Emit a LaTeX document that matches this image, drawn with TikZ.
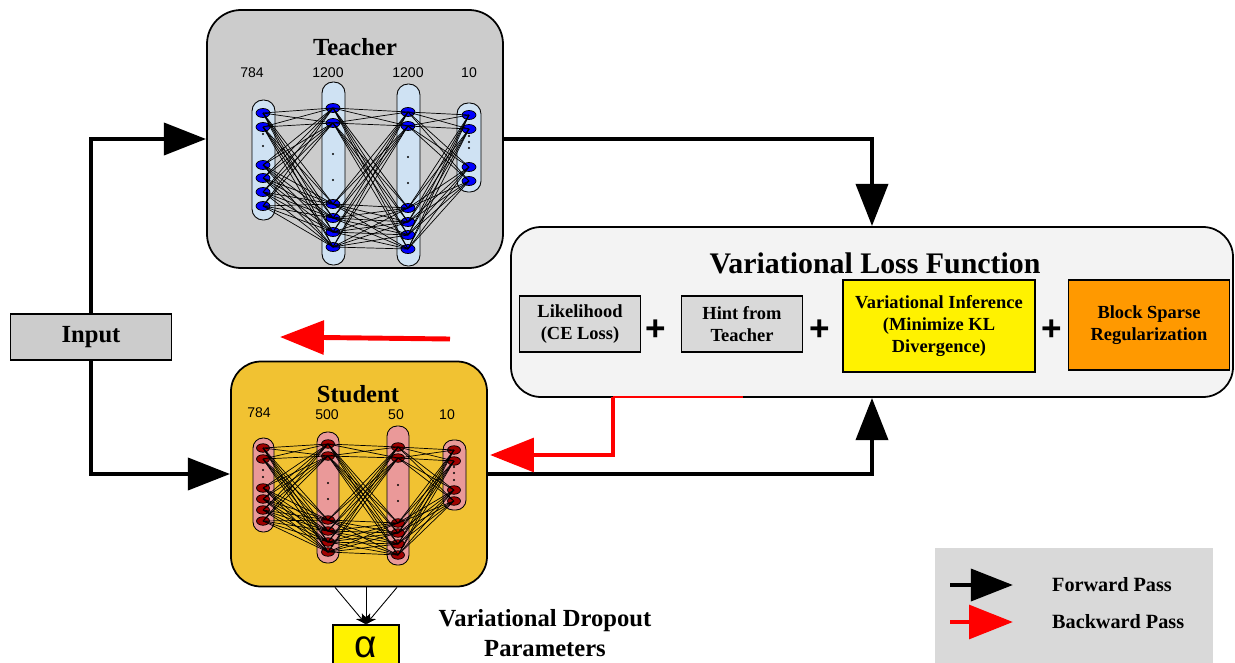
\documentclass[tikz,border=0pt]{standalone}
\usepackage{fontspec}
\setmainfont{Liberation Serif}
\setsansfont{Liberation Sans}
\usetikzlibrary{arrows.meta,shapes.geometric,calc}

\newlength{\du}
\setlength{\du}{0.02cm}

\tikzset{
  panel/.style={draw=black, line width=1pt, inner sep=0pt},
  tbar/.style={draw=black, line width=0.5pt, fill=teacherbar, rounded corners=11\du},
  sbar/.style={draw=black, line width=0.5pt, fill=studentbar, rounded corners=10\du},
  tunit/.style={ellipse, draw=black, line width=0.4pt, fill=teacherunit, minimum width=14\du, minimum height=9\du, inner sep=0pt},
  sunit/.style={ellipse, draw=black, line width=0.4pt, fill=studentunit, minimum width=13\du, minimum height=8.5\du, inner sep=0pt},
  wire/.style={line width=0.4pt},
  fwd/.style={line width=2.8pt, -{Triangle[length=24pt,width=18pt]}},
  bwd/.style={red, line width=2.8pt, -{Triangle[length=25pt,width=19pt]}},
  termbox/.style={draw=black, line width=0.6pt, inner sep=0pt, align=center, font=\bfseries\fontsize{10.5}{12.5}\selectfont},
  plussign/.style={font=\sffamily\bfseries\fontsize{20}{20}\selectfont},
  layerlabel/.style={font=\sffamily\fontsize{8}{8}\selectfont, inner sep=1pt},
  boxtitle/.style={font=\bfseries\fontsize{14}{14}\selectfont, inner sep=1pt},
  legendtext/.style={anchor=west, font=\bfseries\fontsize{11.5}{11.5}\selectfont},
}

\begin{document}
\begin{tikzpicture}
\pgftransformxscale{1.000000}
\pgftransformyscale{-1.000000}
\definecolor{teachergray}{RGB}{204,204,204}
\definecolor{studentgold}{RGB}{241,194,50}
\definecolor{lossgray}{RGB}{243,243,243}
\definecolor{termgray}{RGB}{217,217,217}
\definecolor{termorange}{RGB}{255,153,0}
\definecolor{teacherbar}{RGB}{207,226,243}
\definecolor{teacherunit}{RGB}{0,0,255}
\definecolor{studentbar}{RGB}{234,153,153}
\definecolor{studentunit}{RGB}{160,0,0}
\useasboundingbox (0\du,0\du) rectangle (1235\du,663\du);

% teacher
\node[panel, rounded corners=34\du, fill=teachergray, minimum width=296\du, minimum height=258\du] (teacher) at (355\du,139\du) {};
\node[boxtitle] (teachertitle) at (355\du,47\du) {Teacher};
\node[layerlabel] (tlab1) at (252\du,73\du) {784};
\node[layerlabel] (tlab2) at (328\du,73\du) {1200};
\node[layerlabel] (tlab3) at (408\du,73\du) {1200};
\node[layerlabel] (tlab4) at (469\du,73\du) {10};
\draw[tbar] (252\du,100\du) rectangle (275\du,220\du);
\draw[tbar] (322\du,82\du) rectangle (345\du,265\du);
\draw[tbar] (397\du,84\du) rectangle (420\du,266\du);
\draw[tbar] (457\du,103\du) rectangle (481\du,192\du);
\foreach \y [count=\k] in {113,127,165,178,192,206}
  \node[tunit] (ta\k) at (263\du,\y\du) {};
\foreach \y [count=\k] in {108,123,204,218,232,247}
  \node[tunit] (tb\k) at (333\du,\y\du) {};
\foreach \y [count=\k] in {112,126,208,222,235,249}
  \node[tunit] (tc\k) at (408\du,\y\du) {};
\foreach \y [count=\k] in {115,129,167,181}
  \node[tunit] (td\k) at (469\du,\y\du) {};
\foreach \x/\y in {263/134,263/146,333/154,333/180,408/157,408/183,469/136,469/142,469/148}
  \fill (\x\du,\y\du) circle (1.1\du);
\foreach \i in {1,...,6}{
  \foreach \j in {1,...,6}{
    \draw[wire] (ta\i.center) -- (tb\j.center);
    \draw[wire] (tb\i.center) -- (tc\j.center);
  }
  \foreach \j in {1,...,4}
    \draw[wire] (tc\i.center) -- (td\j.center);
}

% student
\node[panel, rounded corners=30\du, fill=studentgold, minimum width=256\du, minimum height=225\du] (student) at (359\du,474\du) {};
\node[boxtitle] (studenttitle) at (358\du,394\du) {Student};
\node[layerlabel] (slab1) at (259\du,413\du) {784};
\node[layerlabel] (slab2) at (327\du,415\du) {500};
\node[layerlabel] (slab3) at (396\du,415\du) {50};
\node[layerlabel] (slab4) at (447\du,415\du) {10};
\draw[sbar] (253\du,438\du) rectangle (274\du,532\du);
\draw[sbar] (317\du,432\du) rectangle (339\du,563\du);
\draw[sbar] (387\du,426\du) rectangle (409\du,565\du);
\draw[sbar] (443\du,440\du) rectangle (466\du,510\du);
\foreach \y [count=\k] in {448,459,488,499,510,521}
  \node[sunit] (sa\k) at (263\du,\y\du) {};
\foreach \y [count=\k] in {444,456,520,531,542,552}
  \node[sunit] (sb\k) at (328\du,\y\du) {};
\foreach \y [count=\k] in {447,458,523,533,544,555}
  \node[sunit] (sc\k) at (398\du,\y\du) {};
\foreach \y [count=\k] in {450,461,490,501}
  \node[sunit] (sd\k) at (454\du,\y\du) {};
\foreach \x/\y in {263/470,263/477,328/483,328/499,398/485,398/501,454/467,454/473,454/480}
  \fill (\x\du,\y\du) circle (1.1\du);
\foreach \i in {1,...,6}{
  \foreach \j in {1,...,6}{
    \draw[wire] (sa\i.center) -- (sb\j.center);
    \draw[wire] (sb\i.center) -- (sc\j.center);
  }
  \foreach \j in {1,...,4}
    \draw[wire] (sc\i.center) -- (sd\j.center);
}

% loss function
\node[panel, rounded corners=30\du, fill=lossgray, minimum width=722\du, minimum height=170\du] (loss) at (872\du,312\du) {};
\node[font=\bfseries\fontsize{17}{17}\selectfont] (losstitle) at (875\du,263\du) {Variational Loss Function};
\node[termbox, fill=termgray, minimum width=121\du, minimum height=56\du] (likelihood) at (580\du,324\du) {Likelihood\\(CE Loss)};
\node[plussign] (plusa) at (656\du,330\du) {+};
\node[termbox, fill=termgray, minimum width=121\du, minimum height=56\du] (hint) at (742\du,324\du) {Hint from\\Teacher};
\node[plussign] (plusb) at (820\du,330\du) {+};
\node[termbox, fill=yellow, minimum width=192\du, minimum height=92\du] (varinf) at (939\du,326\du) {Variational Inference\\(Minimize KL\\Divergence)};
\node[plussign] (plusc) at (1052\du,330\du) {+};
\node[termbox, fill=termorange, minimum width=161\du, minimum height=90\du] (blocksparse) at (1149\du,325\du) {Block Sparse\\Regularization};

% input
\node[panel, line width=0.8pt, fill=teachergray, minimum width=161\du, minimum height=46\du, font=\bfseries\fontsize{14}{14}\selectfont] (input) at (91\du,337\du) {Input};

% forward pass
\draw[fwd] (input.north) |- (teacher.west);
\draw[fwd] (input.south) |- (student.west);
\draw[fwd] (teacher.east) -| (loss.north);
\draw[fwd] (student.east) -| (loss.south);

% backward pass
\coordinate (backtail) at (450\du,339\du);
\coordinate (backtip) at (280\du,337\du);
\draw[bwd] (backtail) -- (backtip);
\coordinate (lossout) at (613\du,397\du);
\coordinate (lossmark) at (743\du,397\du);
\coordinate (studentin) at (490\du,455\du);
\draw[red, line width=1pt] (lossout) -- (lossmark);
\draw[bwd] (lossout) |- (studentin);

% dropout parameters
\node[draw=black, line width=0.8pt, fill=yellow, minimum width=66\du, minimum height=44\du, inner sep=0pt, font=\sffamily\fontsize{22}{22}\selectfont] (alpha) at (366\du,647\du) {α};
\foreach \dx in {-24,7,38}
  \draw[line width=0.5pt, -{Stealth[length=6pt,width=5pt]}] ($(student.south)+(\dx\du,0)$) -- (alpha.north);
\node[font=\bfseries\fontsize{14}{17}\selectfont, align=center] (dropouttext) at (545\du,633\du) {Variational Dropout\\Parameters};

% legend
\node[fill=termgray, minimum width=278\du, minimum height=120\du, inner sep=0pt] (legend) at (1074\du,608\du) {};
\coordinate (fwdtail) at (950\du,585\du);
\coordinate (fwdtip) at (1013\du,585\du);
\draw[fwd] (fwdtail) -- (fwdtip);
\node[legendtext] (fwdlabel) at (1046\du,585\du) {Forward Pass};
\coordinate (bwdtail) at (950\du,622\du);
\coordinate (bwdtip) at (1013\du,622\du);
\draw[bwd] (bwdtail) -- (bwdtip);
\node[legendtext] (bwdlabel) at (1046\du,622\du) {Backward Pass};
\end{tikzpicture}
\end{document}
